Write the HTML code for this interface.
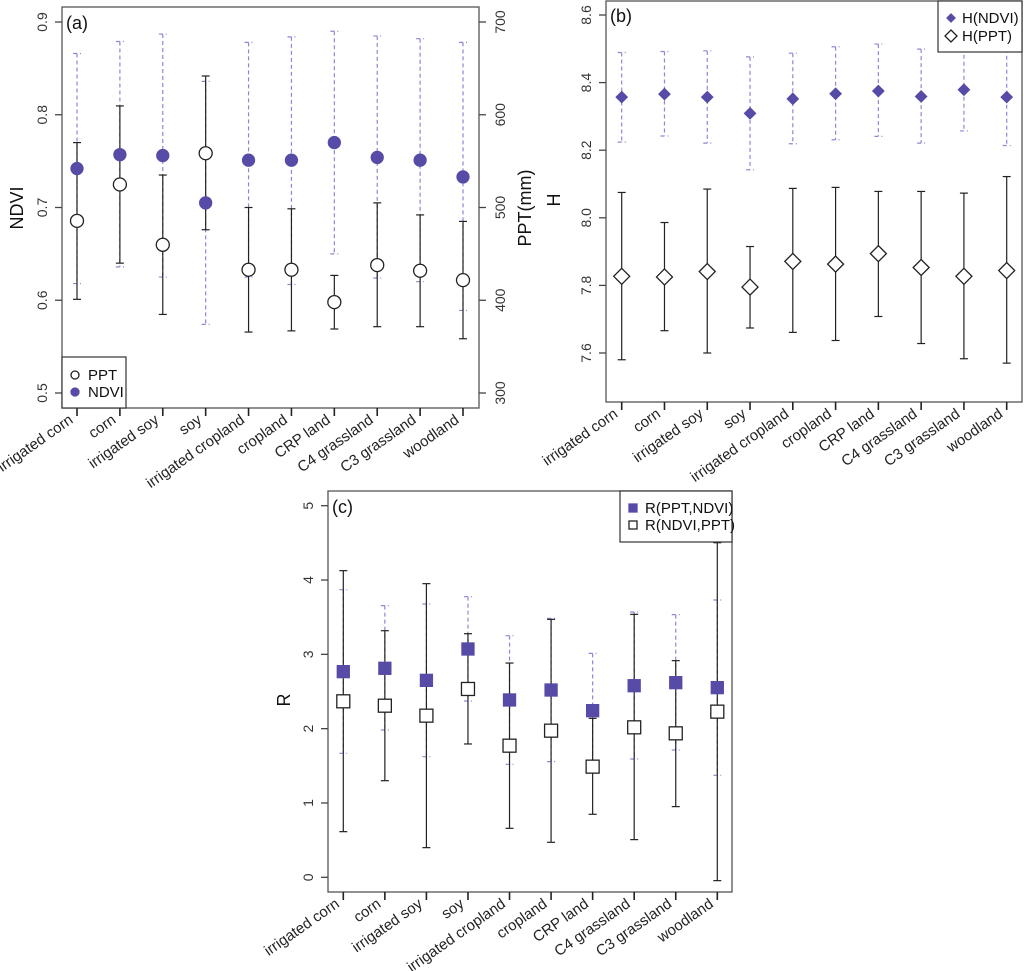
<!DOCTYPE html>
<html><head><meta charset="utf-8">
<style>
html,body{margin:0;padding:0;background:#fff;}
svg{display:block;font-family:"Liberation Sans",Arial,sans-serif;}
</style></head>
<body>
<svg id="chart" width="1024" height="971" viewBox="0 0 1024 971" xmlns="http://www.w3.org/2000/svg"></svg>
<script>
// ---------- data ----------
const categories = ["irrigated corn","corn","irrigated soy","soy","irrigated cropland","cropland","CRP land","C4 grassland","C3 grassland","woodland"];

// Panel (a)
const ndviMean = [0.742,0.757,0.756,0.705,0.751,0.751,0.770,0.754,0.751,0.733];
const ndviHigh = [0.866,0.879,0.887,0.836,0.878,0.884,0.890,0.885,0.882,0.878];
const ndviLow  = [0.618,0.636,0.625,0.574,0.625,0.617,0.650,0.624,0.620,0.589];
const pptMean = [485.6,524.8,459.8,558.5,432.9,432.9,398,437.9,431.8,421.7];
const pptHigh = [570,609.5,535,641.8,500,498.6,426.8,505,492,485];
const pptLow  = [401,440,384.7,476,365.7,367,369,371.5,371.5,358.5];
const ndviTicks = [0.5,0.6,0.7,0.8,0.9];
const pptTicks = [300,400,500,600,700];

// Panel (b)
const hNdviMean = [8.357,8.366,8.357,8.309,8.352,8.367,8.375,8.359,8.379,8.357];
const hNdviHigh = [8.489,8.492,8.494,8.476,8.487,8.506,8.514,8.499,8.503,8.500];
const hNdviLow  = [8.224,8.242,8.221,8.142,8.219,8.231,8.241,8.221,8.257,8.214];
const hPptMean = [7.827,7.825,7.841,7.795,7.871,7.863,7.894,7.853,7.827,7.844];
const hPptHigh = [8.075,7.986,8.085,7.915,8.087,8.090,8.078,8.078,8.073,8.122];
const hPptLow  = [7.580,7.666,7.600,7.674,7.661,7.637,7.708,7.628,7.583,7.570];
const hTicks = [7.6,7.8,8.0,8.2,8.4,8.6];

// Panel (c)
const rPnMean = [2.767,2.812,2.650,3.072,2.386,2.520,2.242,2.578,2.619,2.552];
const rPnHigh = [3.870,3.655,3.677,3.776,3.251,3.484,3.013,3.570,3.534,3.731];
const rPnLow  = [1.668,1.982,1.623,2.372,1.520,1.556,1.471,1.592,1.713,1.372];
const rNpMean = [2.368,2.309,2.175,2.534,1.771,1.973,1.489,2.018,1.937,2.229];
const rNpHigh = [4.126,3.318,3.951,3.278,2.883,3.471,2.139,3.538,2.915,4.502];
const rNpLow  = [0.614,1.300,0.399,1.794,0.659,0.471,0.848,0.507,0.951,-0.045];
const rTicks = [0,1,2,3,4,5];

// ---------- drawing ----------
const NS = "http://www.w3.org/2000/svg";
const svg = document.getElementById("chart");
const PURPLE = "#564ba6", DASH = "#8e86d6", AX = "#444";

function mk(tag, attrs, parent){
  const e = document.createElementNS(NS, tag);
  for (const k in attrs) e.setAttribute(k, attrs[k]);
  (parent||svg).appendChild(e);
  return e;
}
function linScale(d0,d1,r0,r1){ return v => r0 + (v-d0)/(d1-d0)*(r1-r0); }

function frame(g, box){
  const r = mk("rect",{x:box.x0,y:box.y0,width:box.x1-box.x0,height:box.y1-box.y0,fill:"none",stroke:"#555","stroke-width":1.3},g);
  
  
}
function xAxis(g, box, xs){
  categories.forEach((c,i)=>{
    const x = xs(i);
    const t = mk("line",{x1:x,x2:x,y1:box.y1,y2:box.y1+8,stroke:"#222","stroke-width":1.6},g);
    
    
    const lab = mk("text",{transform:`translate(${x-3},${box.y1+14}) rotate(-35)`,"text-anchor":"end","font-size":15,fill:"#222"},g);
    lab.textContent = c;
    
    
  });
}
function yAxis(g, box, ys, ticks, fmt, side){
  ticks.forEach(v=>{
    const y = ys(v);
    const x = side==="left"?box.x0:box.x1;
    const dx = side==="left"?-7:7;
    const t = mk("line",{x1:x,x2:x+dx,y1:y,y2:y,stroke:AX,"stroke-width":1.3},g);
    
    
    const lx = side==="left"?x-19:x+22;
    const lab = mk("text",{transform:`translate(${lx+4},${y}) rotate(-90)`,"text-anchor":"middle","font-size":14,fill:"#333"},g);
    lab.textContent = fmt(v);
    
    
  });
}
function errBars(g, xs, ys, lo, hi, dashed, name){
  lo.forEach((l,i)=>{
    const x = xs(i), y1 = ys(hi[i]), y2 = ys(l);
    const col = dashed?DASH:"#222";
    const extra = dashed?{"stroke-dasharray":"4,3"}:{};
    const ln = mk("line",Object.assign({x1:x,x2:x,y1:y1,y2:y2,stroke:col,"stroke-width":1.2},extra),g);
    
    
    [y1,y2].forEach(yy=>{
      const cp = mk("line",Object.assign({x1:x-4,x2:x+4,y1:yy,y2:yy,stroke:col,"stroke-width":1.2},extra),g);
      
      
    });
  });
}
function marker(g, shape, x, y, filled, size){
  let e;
  const fill = filled?PURPLE:"#fff", stroke = filled?PURPLE:"#222";
  if(shape==="circle") e = mk("circle",{cx:x,cy:y,r:size,fill:fill,stroke:stroke,"stroke-width":1.3},g);
  else if(shape==="square") e = mk("rect",{x:x-size,y:y-size,width:2*size,height:2*size,fill:fill,stroke:stroke,"stroke-width":1.3},g);
  else e = mk("polygon",{points:`${x},${y-size} ${x+size},${y} ${x},${y+size} ${x-size},${y}`,fill:fill,stroke:stroke,"stroke-width":1.3},g);
  return e;
}
function points(g, xs, ys, vals, shape, filled, size, name){
  vals.forEach((v,i)=>{
    const e = marker(g, shape, xs(i), ys(v), filled, size);
    
    
  });
}
function text(g, x, y, s, size, attrs, name){
  const t = mk("text",Object.assign({x:x,y:y,"font-size":size,fill:"#111"},attrs||{}),g);
  t.textContent = s;
  
  
  return t;
}
function legend(g, box, entries, name){
  const r = mk("rect",{x:box.x,y:box.y,width:box.w,height:box.h,fill:"#fff",stroke:"#333","stroke-width":1.2},g);
  
  
  entries.forEach((en,i)=>{
    const y = box.ey + i*box.dy;
    const m = marker(g, en.shape, box.sx, y, en.filled, en.size);
    
    
    text(g, box.tx, y+5, en.label, 15, {}, 'legend-entry');
  });
}

// ----- Panel A -----
(function(){
  const g = mk("g",{});  
  const box = {x0:62,x1:479,y0:7,y1:408};
  const xs = i => 77 + i*(463-77)/9;
  const yN = linScale(0.5,0.9,393,22);
  const yP = linScale(300,700,393,22);
  errBars(g,xs,yN,ndviLow,ndviHigh,true,'ndvi');
  errBars(g,xs,yP,pptLow,pptHigh,false,'ppt');
  points(g,xs,yN,ndviMean,"circle",true,6,'ndvi');
  points(g,xs,yP,pptMean,"circle",false,6.5,'ppt');
  frame(g,box);
  yAxis(g,box,yN,ndviTicks,v=>v.toFixed(1),"left");
  yAxis(g,box,yP,pptTicks,v=>String(v),"right");
  xAxis(g,box,xs);
  text(g,66,29,"(a)",18,{},'panel-label-a');
  text(g,0,0,"NDVI",18,{transform:"translate(23,208) rotate(-90)","text-anchor":"middle"},'y-axis-title-ndvi');
  text(g,0,0,"PPT(mm)",18,{transform:"translate(531,208) rotate(-90)","text-anchor":"middle"},'y-axis-title-ppt');
  legend(g,{x:62,y:357,w:64,h:51,sx:75,tx:88,ey:375,dy:17},
    [{shape:"circle",filled:false,size:4,label:"PPT"},{shape:"circle",filled:true,size:4,label:"NDVI"}],'legend-a');
})();

// ----- Panel B -----
(function(){
  const g = mk("g",{});  
  const box = {x0:606,x1:1022,y0:1,y1:402};
  const xs = i => 621.7 + i*(1006.7-621.7)/9;
  const ys = linScale(7.6,8.6,353,15);
  errBars(g,xs,ys,hNdviLow,hNdviHigh,true,'h-ndvi');
  errBars(g,xs,ys,hPptLow,hPptHigh,false,'h-ppt');
  points(g,xs,ys,hNdviMean,"diamond",true,5.5,'h-ndvi');
  points(g,xs,ys,hPptMean,"diamond",false,8,'h-ppt');
  frame(g,box);
  yAxis(g,box,ys,hTicks,v=>v.toFixed(1),"left");
  xAxis(g,box,xs);
  text(g,610,22,"(b)",18,{},'panel-label-b');
  text(g,0,0,"H",18,{transform:"translate(560,200) rotate(-90)","text-anchor":"middle"},'y-axis-title-h');
  legend(g,{x:938,y:1,w:84,h:51,sx:951,tx:962,ey:18,dy:18},
    [{shape:"diamond",filled:true,size:4,label:"H(NDVI)"},{shape:"diamond",filled:false,size:6,label:"H(PPT)"}],'legend-b');
})();

// ----- Panel C -----
(function(){
  const g = mk("g",{});  
  const box = {x0:328,x1:732,y0:491,y1:892};
  const xs = i => 343.3 + i*(717.3-343.3)/9;
  const ys = linScale(0,5,877.3,505.7);
  errBars(g,xs,ys,rPnLow,rPnHigh,true,'r-ppt-ndvi');
  errBars(g,xs,ys,rNpLow,rNpHigh,false,'r-ndvi-ppt');
  points(g,xs,ys,rPnMean,"square",true,6,'r-ppt-ndvi');
  points(g,xs,ys,rNpMean,"square",false,6.5,'r-ndvi-ppt');
  frame(g,box);
  yAxis(g,box,ys,rTicks,v=>String(v),"left");
  xAxis(g,box,xs);
  text(g,332,513,"(c)",18,{},'panel-label-c');
  text(g,0,0,"R",18,{transform:"translate(290,700) rotate(-90)","text-anchor":"middle"},'y-axis-title-r');
  legend(g,{x:620,y:491,w:112,h:51,sx:633,tx:645,ey:508,dy:17},
    [{shape:"square",filled:true,size:4,label:"R(PPT,NDVI)"},{shape:"square",filled:false,size:4,label:"R(NDVI,PPT)"}],'legend-c');
})();
</script>
</body></html>
